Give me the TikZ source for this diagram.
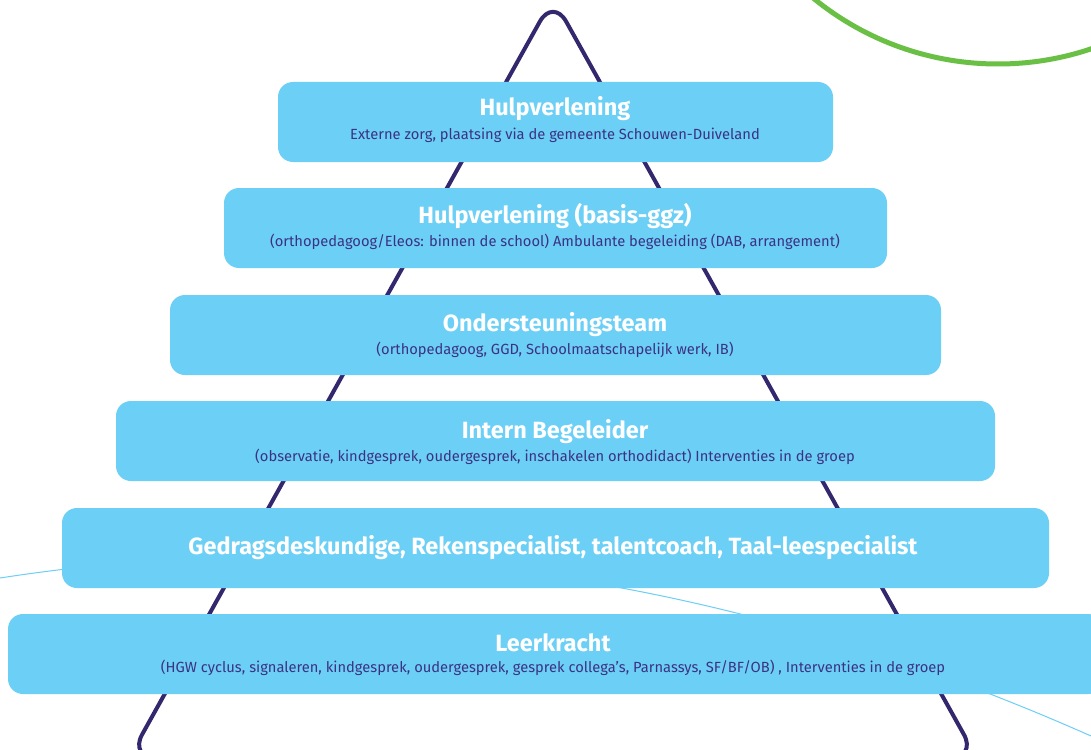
\documentclass[tikz,border=0pt]{standalone}
\usepackage{fontspec}
\setmainfont{Fira Sans}
\definecolor{boxblue}{HTML}{6CCFF6}
\definecolor{navy}{HTML}{33286E}
\definecolor{subtxt}{HTML}{3B3382}
\definecolor{leaf}{HTML}{6ABF45}
\tikzset{
  tier/.style={fill=boxblue, draw=none, rounded corners=15pt, minimum height=80pt, inner sep=0pt},
  tiertitle/.style={text=white, font=\fontsize{23.5}{28}\selectfont\bfseries, inner sep=0pt, anchor=center},
  tiersub/.style={text=subtxt, font=\fontsize{14.7}{17}\selectfont, inner sep=0pt, anchor=center},
  pyramid/.style={draw=navy, line width=4pt, rounded corners=27pt, line join=round},
  thinline/.style={draw=boxblue, line width=1pt},
  leafarc/.style={draw=leaf, line width=5pt}
}
\begin{document}
\begin{tikzpicture}[x=1pt,y=-1pt]
\useasboundingbox (0,0) rectangle (1091,749);
\fill[white] (0,0) rectangle (1091,749);
% background decorations
\coordinate (lineS) at (0,578);
\coordinate (lineE) at (1091,736);
\draw[thinline] (lineS) .. controls (363.7,521.8) and (727.3,574.5) .. (lineE);
\coordinate (apex) at (553,-2);
\coordinate (bl) at (129,758);
\coordinate (br) at (977,758);
\draw[pyramid] (bl) -- (apex) -- (br) -- cycle;
\begin{scope}
\clip (0,0) rectangle (1091,749);
\coordinate (arcC) at (998,-228);
\draw[leafarc] (arcC) circle[radius=292];
\end{scope}
% tiers
\node[tier, minimum width=555pt] (t1) at (555.5,122) {};
\node[tier, minimum width=663pt] (t2) at (555.5,228) {};
\node[tier, minimum width=771pt] (t3) at (555.5,335) {};
\node[tier, minimum width=879pt] (t4) at (555.5,441) {};
\node[tier, minimum width=987pt] (t5) at (555.5,548) {};
\node[tier, minimum width=1095pt] (t6) at (555.5,654) {};
% texts
\node[tiertitle] (h1) at (555,109) {Hulpverlening};
\node[tiersub] (s1) at (555,135) {Externe zorg, plaatsing via de gemeente Schouwen-Duiveland};
\node[tiertitle] (h2) at (555,216) {Hulpverlening (basis-ggz)};
\node[tiersub] (s2) at (555,242) {(orthopedagoog/Eleos: binnen de school) Ambulante begeleiding (DAB, arrangement)};
\node[tiertitle] (h3) at (555,325) {Ondersteuningsteam};
\node[tiersub] (s3) at (555,350) {(orthopedagoog, GGD, Schoolmaatschapelijk werk, IB)};
\node[tiertitle] (h4) at (555,432) {Intern Begeleider};
\node[tiersub] (s4) at (555,457) {(observatie, kindgesprek, oudergesprek, inschakelen orthodidact) Interventies in de groep};
\node[tiertitle] (h5) at (553,548) {Gedragsdeskundige, Rekenspecialist, talentcoach, Taal-leespecialist};
\node[tiertitle] (h6) at (553,643) {Leerkracht};
\node[tiersub] (s6) at (553,668) {(HGW cyclus, signaleren, kindgesprek, oudergesprek, gesprek collega’s, Parnassys, SF/BF/OB) , Interventies in de groep};
\end{tikzpicture}
\end{document}
